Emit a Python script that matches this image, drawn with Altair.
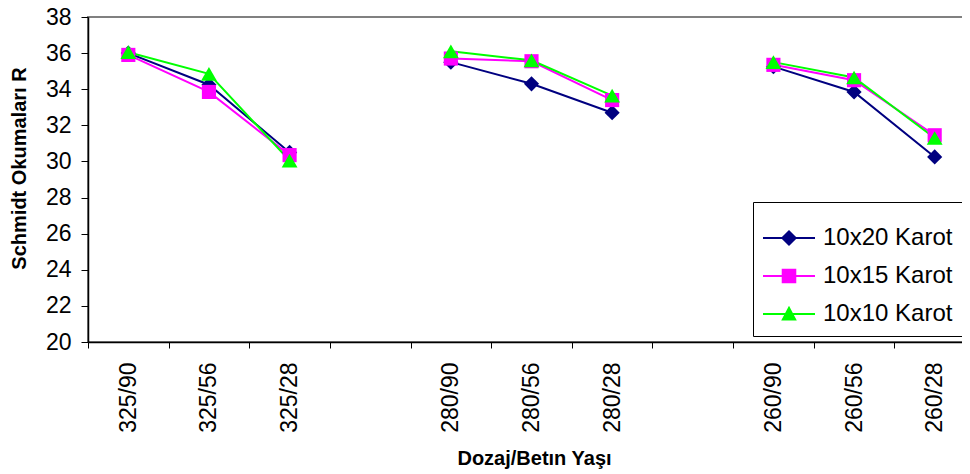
import altair as alt
import pandas as pd

# ---- data ----
categories = ["325/90", "325/56", "325/28", " ",
              "280/90", "280/56", "280/28", "  ",
              "260/90", "260/56", "260/28"]
groups = ["325", "325", "325", None, "280", "280", "280", None, "260", "260", "260"]
series_names = ["10x20 Karot", "10x15 Karot", "10x10 Karot"]
karot_10x20 = [36.0, 34.25, 30.5, None, 35.5, 34.3, 32.7, None, 35.25, 33.85, 30.25]
karot_10x15 = [35.9, 33.85, 30.35, None, 35.7, 35.55, 33.4, None, 35.35, 34.5, 31.45]
karot_10x10 = [36.05, 34.85, 30.05, None, 36.1, 35.6, 33.65, None, 35.5, 34.65, 31.3]
y_ticks = [20, 22, 24, 26, 28, 30, 32, 34, 36, 38]

# ---- styles ----
colors = ["#000080", "#FF00FF", "#00FF00"]
marker_shapes = ["diamond", "square", "triangle-up"]
marker_sizes = [230, 200, 250]
legend_paths = [
    "M-1,-0.04H1V0.04H-1Z M0,-0.31L0.31,0L0,0.31L-0.31,0Z",
    "M-1,-0.04H1V0.04H-1Z M-0.28,-0.28H0.28V0.28H-0.28Z",
    "M-1,-0.04H1V0.04H-1Z M0,-0.32L0.3,0.25L-0.3,0.25Z",
]
FONT = "Liberation Sans"

rows = []
for name, vals in zip(series_names, [karot_10x20, karot_10x15, karot_10x10]):
    for cat, grp, v in zip(categories, groups, vals):
        if v is not None:
            rows.append({"cat": cat, "grp": grp, "series": name, "value": v})
df = pd.DataFrame(rows)

x_scale = alt.Scale(type="band", domain=categories, paddingInner=0, paddingOuter=0)
y_scale = alt.Scale(domain=[20, 38], nice=False, zero=False)

x_axis = alt.Axis(
    title="Dozaj/Betın Yaşı", tickBand="extent", labelAngle=270, labelAlign="right",
    labelBaseline="middle", labelPadding=14, tickSize=6, labelFontSize=23,
    titleFontSize=20, titleFontWeight="bold", titleX=446, titleY=116,
    titleBaseline="middle", titleAnchor="middle",
)
y_axis = alt.Axis(
    title="Schmidt Okumaları R", values=y_ticks, tickSize=7, labelPadding=10,
    labelFontSize=23, titleFontSize=20, titleFontWeight="bold", titleAngle=270,
    titleX=-69, titleY=151, titleBaseline="middle", titleAnchor="middle",
)

X = alt.X("cat:N", scale=x_scale, axis=x_axis, sort=categories)
Y = alt.Y("value:Q", scale=y_scale, axis=y_axis)

base = alt.Chart(df)
layers = []
for i, name in enumerate(series_names):
    sub = base.transform_filter(alt.datum.series == name)
    layers.append(
        sub.mark_line(color=colors[i], strokeWidth=2).encode(x=X, y=Y, detail="grp:N")
    )
for i, name in enumerate(series_names):
    sub = base.transform_filter(alt.datum.series == name)
    layers.append(
        sub.mark_point(shape=marker_shapes[i], color=colors[i], filled=True,
                       size=marker_sizes[i], opacity=1).encode(x=X, y=Y)
    )

legend = alt.Legend(
    title=None, orient="none", legendX=665, legendY=185, labelFont=FONT,
    labelFontSize=24, labelColor="black", symbolSize=2704, symbolStrokeWidth=0,
    padding=10, strokeColor="black", fillColor="white", labelOffset=8,
    rowPadding=0, cornerRadius=0, symbolOpacity=1,
)
legend_layer = base.transform_filter("false").mark_point(filled=True, size=2704, opacity=1).encode(
    x=X, y=Y,
    color=alt.Color("series:N", scale=alt.Scale(domain=series_names, range=colors), legend=legend),
    shape=alt.Shape("series:N", scale=alt.Scale(domain=series_names, range=legend_paths), legend=legend),
)
layers.append(legend_layer)

chart = alt.layer(*layers).properties(
    width=887, height=325,
    autosize=alt.AutoSizeParams(type="none"),
    padding={"left": 80, "top": 9, "right": -13, "bottom": 132},
).configure_view(
    stroke="#808080", strokeWidth=2
).configure_axis(
    labelFont=FONT, titleFont=FONT, labelColor="black", titleColor="black",
    domainColor="black", domainWidth=1.5, tickColor="black", tickWidth=1,
    grid=False, zindex=1,
)

chart.save("out.html", embed_options={"renderer": "svg", "actions": False})
